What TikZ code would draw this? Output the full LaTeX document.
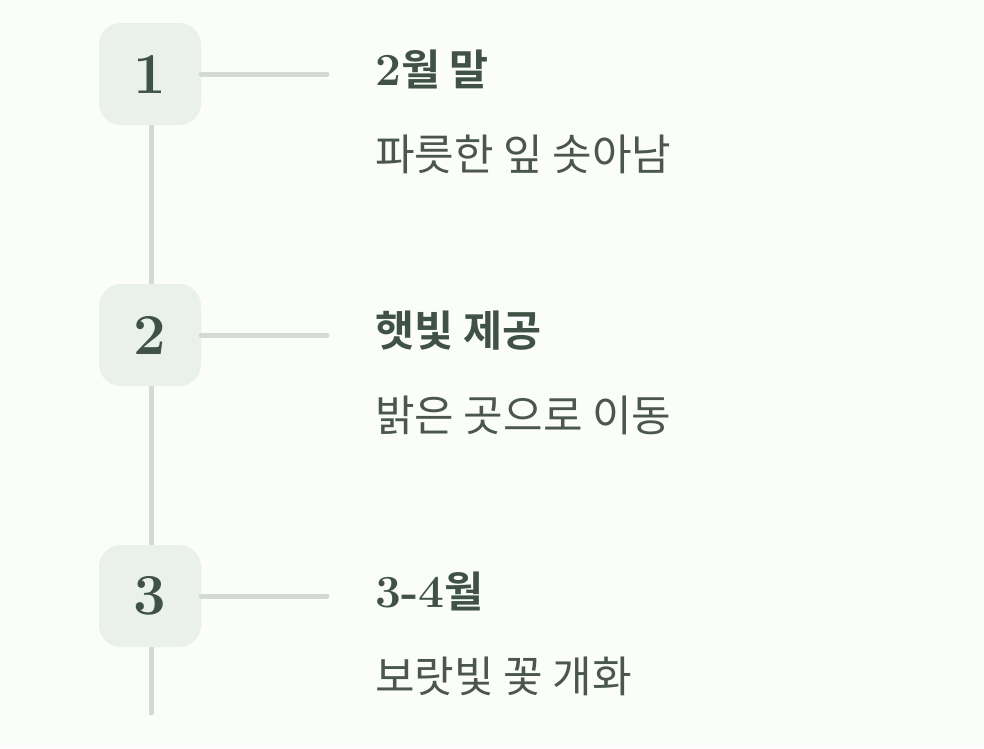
\documentclass[tikz,border=0pt]{standalone}
\usepackage{fontspec}
\newfontfamily\kr{Noto Sans CJK KR}
\newfontfamily\krb{Noto Sans CJK KR Bold}
\definecolor{bg}{HTML}{FAFDF9}
\definecolor{boxc}{HTML}{EAF0EB}
\definecolor{linec}{HTML}{D3DAD4}
\definecolor{dark}{HTML}{3F5245}
\definecolor{sub}{HTML}{4A564E}
\tikzset{
 numbox/.style={fill=boxc,rounded corners=22pt,minimum width=102pt,minimum height=102pt,inner sep=0pt,text=dark,font=\fontsize{58}{58}\selectfont\bfseries},
 conn/.style={draw=linec,line width=5pt,line cap=round},
 ttl/.style={anchor=base west,inner sep=0pt,text=dark,font=\fontsize{42.5}{42}\selectfont\krb},
 subt/.style={anchor=base west,inner sep=0pt,text=sub,font=\fontsize{43}{43}\selectfont\kr},
}
\begin{document}
\begin{tikzpicture}[x=1pt,y=-1pt]
\fill[bg] (0,0) rectangle (984,748);
\useasboundingbox (0,0) rectangle (984,748);
\coordinate (top) at (151,74);
\coordinate (bot) at (151,713);
\draw[conn] (top) -- (bot);
\foreach \i/\y/\n in {1/74/1,2/335/2,3/596/3}{
  \node[numbox] (b\i) at (150,\y) {\n};
  \coordinate (e\i) at (327,\y);
  \draw[conn] (b\i.east) -- (e\i);
}
\node[ttl] (t1) at (375,85) {{\rmfamily\bfseries\fontsize{46}{46}\selectfont 2}월 말};
\node[subt] (s1) at (375,170) {파릇한 잎 솟아남};
\node[ttl] (t2) at (375,346) {햇빛 제공};
\node[subt] (s2) at (375,431) {밝은 곳으로 이동};
\node[ttl] (t3) at (375,607) {{\rmfamily\bfseries\fontsize{46}{46}\selectfont 3-4}월};
\node[subt] (s3) at (375,692) {보랏빛 꽃 개화};
\end{tikzpicture}
\end{document}
